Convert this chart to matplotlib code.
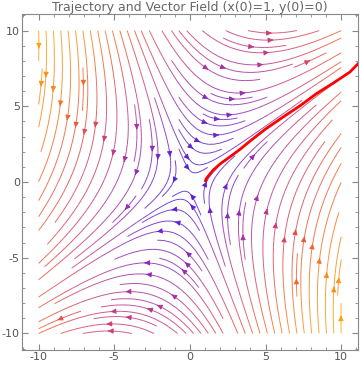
import numpy as np
import matplotlib
matplotlib.use('Agg')
import matplotlib.pyplot as plt
from matplotlib.colors import LinearSegmentedColormap
from matplotlib.ticker import MultipleLocator

plt.rcParams['axes.unicode_minus'] = False

# linear field  x' = a11*x + a12*y,  y' = a21*x + a22*y
a11, a12 = 0.9, 1.0
a21, a22 = 1.93, -1.06

# trajectory from x(0)=1, y(0)=0
traj_x = [1.0, 1.1, 1.3, 1.54, 2.0, 2.64, 3.3, 3.97, 5.0, 6.17, 7.3, 8.37, 9.5, 10.57, 11.2]
traj_y = [0.0, 0.25, 0.5, 0.79, 1.2, 1.66, 2.15, 2.7, 3.5, 4.3, 5.05, 5.84, 6.55, 7.26, 7.9]

ticks = [-10, -5, 0, 5, 10]
title = 'Trajectory and Vector Field (x(0)=1, y(0)=0)'

cmap = LinearSegmentedColormap.from_list('mma', [
    (0.0, '#4a1fd6'), (0.15, '#6a25cb'), (0.3, '#9a2eab'), (0.42, '#c03a86'),
    (0.55, '#de4656'), (0.68, '#f0642c'), (0.8, '#fa8618'), (1.0, '#ffa70a')])

fig = plt.figure(figsize=(3.6, 3.67), dpi=100)
ax = fig.add_axes([0.061, 0.046, 0.933, 0.916])

gx = np.linspace(-10, 10, 100)
gy = np.linspace(-10, 10, 100)
X, Y = np.meshgrid(gx, gy)
U = a11 * X + a12 * Y
V = a21 * X + a22 * Y
speed = np.hypot(U, V)

kw = dict(color=speed, cmap=cmap, density=1.4, linewidth=0.7, arrowsize=0.75,
          broken_streamlines=True)
try:
    sp = ax.streamplot(X, Y, U, V, num_arrows=5, **kw)
except TypeError:
    sp = ax.streamplot(X, Y, U, V, **kw)
sp.lines.set_alpha(0.85)

ax.plot(traj_x, traj_y, color='#ff0000', linewidth=2, solid_capstyle='butt', zorder=5)

ax.set_xlim(-11.1, 11.1)
ax.set_ylim(-11.1, 11.1)
ax.set_xticks(ticks)
ax.set_yticks(ticks)
ax.xaxis.set_minor_locator(MultipleLocator(1))
ax.yaxis.set_minor_locator(MultipleLocator(1))
ax.tick_params(which='both', direction='in', top=True, right=True,
               color='#888888', labelcolor='#555555', labelsize=8, pad=1.5)
ax.tick_params(which='major', length=4)
ax.tick_params(which='minor', length=2)
for s in ax.spines.values():
    s.set_color('#888888')
ax.set_title(title, fontsize=9, color='#666666', pad=2)

fig.savefig('out.png', dpi=100)
